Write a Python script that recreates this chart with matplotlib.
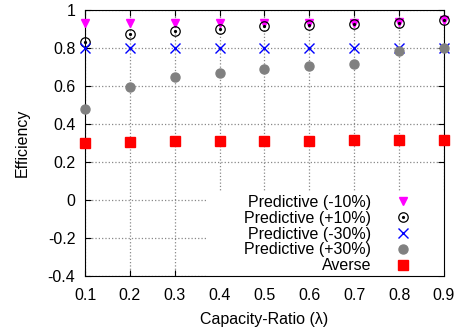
import matplotlib
matplotlib.use("Agg")
import matplotlib.pyplot as plt
from matplotlib.patches import Rectangle
from matplotlib.legend_handler import HandlerTuple

plt.rcParams['font.family'] = ['Liberation Sans', 'DejaVu Sans']

ratios = [0.1, 0.2, 0.3, 0.4, 0.5, 0.6, 0.7, 0.8, 0.9]
pred_m10 = [0.93, 0.93, 0.93, 0.93, 0.93, 0.93, 0.93, 0.935, 0.945]
pred_p10 = [0.83, 0.875, 0.89, 0.90, 0.915, 0.92, 0.925, 0.93, 0.945]
pred_m30 = [0.80, 0.80, 0.80, 0.80, 0.80, 0.80, 0.80, 0.80, 0.80]
pred_p30 = [0.48, 0.595, 0.645, 0.67, 0.69, 0.705, 0.715, 0.785, 0.80]
averse = [0.30, 0.305, 0.31, 0.31, 0.31, 0.31, 0.315, 0.315, 0.315]

fs = 11.5
fig = plt.figure(figsize=(4.62, 3.32), dpi=100)
ax = fig.add_axes([0.184, 0.169, 0.777, 0.801])

h1, = ax.plot(ratios, pred_m10, linestyle='none', marker='v', color='#ff00ff',
              markersize=6, clip_on=False, zorder=5)
h2a, = ax.plot(ratios, pred_p10, linestyle='none', marker='o', markerfacecolor='none',
               markeredgecolor='black', markersize=6.8, markeredgewidth=0.9, clip_on=False, zorder=5)
h2b, = ax.plot(ratios, pred_p10, linestyle='none', marker='o', color='black',
               markersize=1.3, clip_on=False, zorder=5)
h3, = ax.plot(ratios, pred_m30, linestyle='none', marker='x', color='#0000ff',
              markersize=6.5, markeredgewidth=1.0, clip_on=False, zorder=5)
h4, = ax.plot(ratios, pred_p30, linestyle='none', marker='o', color='#808080',
              markersize=6.5, clip_on=False, zorder=5)
h5, = ax.plot(ratios, averse, linestyle='none', marker='s', color='#ff0000',
              markersize=6.5, clip_on=False, zorder=5)

ax.set_xlim(0.1, 0.9)
ax.set_ylim(-0.4, 1.0)
ax.set_xticks(ratios)
ax.set_xticklabels([f"{r:g}" for r in ratios])
ax.set_yticks([-0.4, -0.2, 0, 0.2, 0.4, 0.6, 0.8, 1])
ax.set_yticklabels(['-0.4', '-0.2', '0', '0.2', '0.4', '0.6', '0.8', '1'])
ax.tick_params(direction='in', top=True, right=True, labelsize=fs, length=4, pad=7)
ax.tick_params(axis='x', pad=9)
ax.grid(True, color='#888888', linestyle=':', linewidth=0.9)
ax.set_axisbelow(True)
ax.set_xlabel('Capacity-Ratio (λ)', fontsize=fs, labelpad=6)
ax.set_ylabel('Efficiency', fontsize=fs, labelpad=13)

# white key area covering the grid, gnuplot style
ax.add_patch(Rectangle((0.343, 0.0), 0.657, 0.316, transform=ax.transAxes,
                       facecolor='white', edgecolor='none', zorder=1))

leg = ax.legend([h1, (h2a, h2b), h3, h4, h5],
                ['Predictive (-10%)', 'Predictive (+10%)', 'Predictive (-30%)',
                 'Predictive (+30%)', 'Averse'],
                handler_map={tuple: HandlerTuple(ndivide=1, pad=0)},
                loc='lower right', bbox_to_anchor=(0.969, -0.041),
                markerfirst=False, fontsize=fs,
                frameon=False, handlelength=2.0,
                handletextpad=1.0, labelspacing=0.05, borderpad=0.35)
leg.set_zorder(6)

fig.savefig('out.png', dpi=100)
